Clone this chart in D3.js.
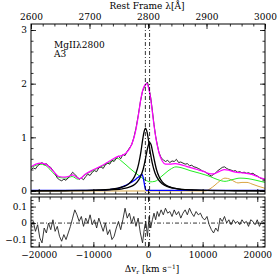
<!DOCTYPE html>
<html>
<head>
<meta charset="utf-8">
<script src="https://cdn.jsdelivr.net/npm/d3@7"></script>
<style>
  body { margin: 0; background: #fff; }
  svg text { font-family: "DejaVu Serif", serif; font-size: 9px; fill: #000; }
</style>
</head>
<body>
<div id="chart"></div>
<script>
// observed spectrum [velocity km/s, flux]
var spectrum = [
  [-21400,0.40],[-21000,0.43],[-20600,0.41],[-20200,0.47],[-19800,0.50],[-19400,0.53],[-19000,0.49],
  [-18600,0.51],[-18200,0.46],[-17800,0.44],[-17400,0.38],[-17000,0.33],[-16600,0.24],[-16200,0.21],
  [-15800,0.19],[-15400,0.22],[-15000,0.20],[-14600,0.25],[-14200,0.29],[-13800,0.35],[-13400,0.31],
  [-13000,0.27],[-12600,0.22],[-12200,0.24],[-11800,0.21],[-11400,0.27],[-11000,0.31],[-10600,0.29],
  [-10200,0.35],[-9800,0.38],[-9400,0.36],[-9000,0.43],[-8600,0.45],[-8200,0.42],[-7800,0.49],
  [-7400,0.52],[-7000,0.50],[-6600,0.57],[-6200,0.55],[-5800,0.61],[-5400,0.65],[-5000,0.60],
  [-4600,0.68],[-4200,0.66],[-3800,0.74],[-3400,0.80],[-3000,0.86],[-2600,0.99],[-2200,1.17],
  [-1800,1.40],[-1400,1.66],[-1000,1.86],[-700,1.93],[-400,1.99],[-100,2.03],[200,1.90],[500,1.74],
  [800,1.50],[1100,1.24],[1400,1.02],[1700,0.86],[2000,0.72],[2400,0.62],[2800,0.58],[3200,0.55],
  [3600,0.57],[4000,0.53],[4400,0.56],[4800,0.55],[5200,0.59],[5600,0.53],[6000,0.54],[6400,0.52],
  [6800,0.50],[7200,0.51],[7600,0.47],[8000,0.48],[8400,0.45],[8800,0.44],[9200,0.42],[9600,0.40],
  [10000,0.37],[10400,0.36],[10800,0.33],[11200,0.30],[11600,0.28],[12000,0.31],[12400,0.34],
  [12800,0.38],[13200,0.41],[13600,0.44],[14000,0.45],[14400,0.42],[14800,0.40],[15200,0.39],
  [15600,0.37],[16000,0.38],[16400,0.35],[16800,0.36],[17200,0.34],[17600,0.35],[18000,0.33],
  [18400,0.34],[18800,0.32],[19200,0.33],[19600,0.30],[20000,0.28],[20400,0.25],[20800,0.23],[21400,0.21]
];

// total fit
var totalFit = [
  [-21400,0.45],[-20500,0.50],[-19700,0.52],[-18800,0.50],[-17900,0.43],[-17000,0.33],[-16300,0.27],
  [-15200,0.26],[-14300,0.28],[-13800,0.30],[-13000,0.25],[-12500,0.23],[-11500,0.31],[-10500,0.37],
  [-9500,0.42],[-8500,0.47],[-7500,0.53],[-6500,0.59],[-5600,0.64],[-4800,0.66],[-4000,0.71],
  [-3300,0.80],[-2700,0.95],[-2200,1.15],[-1700,1.45],[-1300,1.72],[-900,1.90],[-500,1.98],
  [-200,2.00],[100,1.92],[400,1.78],[700,1.55],[1000,1.30],[1300,1.08],[1700,0.85],[2100,0.68],
  [2600,0.56],[3200,0.50],[4000,0.50],[5000,0.51],[6000,0.49],[7000,0.46],[8000,0.43],[9000,0.40],
  [10000,0.37],[11000,0.33],[12000,0.32],[13000,0.36],[14000,0.40],[15000,0.38],[16000,0.35],
  [17000,0.34],[18000,0.33],[19000,0.31],[20000,0.27],[21400,0.22]
];

// FeII template
var feTemplate = [
  [-21400,0.44],[-20700,0.47],[-19760,0.50],[-18850,0.48],[-17930,0.40],[-17020,0.30],[-16100,0.25],
  [-14820,0.24],[-13900,0.27],[-12800,0.22],[-11530,0.30],[-9700,0.40],[-7870,0.49],[-6590,0.56],
  [-5670,0.61],[-4760,0.55],[-3300,0.42],[-1830,0.30],[-550,0.21],[370,0.17],[1280,0.18],[2560,0.28],
  [4030,0.40],[5120,0.45],[6220,0.43],[7690,0.38],[9500,0.33],[11350,0.27],[12800,0.21],[14090,0.18],
  [15370,0.21],[16840,0.24],[18300,0.23],[19760,0.20],[21400,0.16]
];

// broad MgII 2796 component
var broad2796 = [
  [-21400,0.003],[-16000,0.006],[-12000,0.011],[-9000,0.019],[-7000,0.032],[-5500,0.053],[-4500,0.080],
  [-3500,0.135],[-2800,0.21],[-2200,0.33],[-1700,0.51],[-1300,0.73],[-1000,0.94],[-700,1.11],
  [-450,1.17],[-200,1.11],[100,0.94],[400,0.73],[800,0.51],[1300,0.33],[1900,0.21],[2600,0.135],
  [3600,0.080],[4600,0.053],[6100,0.032],[8100,0.019],[11100,0.011],[15100,0.006],[21400,0.003]
];

// broad MgII 2803 component
var broad2803 = [
  [-21400,0.002],[-15200,0.005],[-11200,0.008],[-8200,0.015],[-6200,0.025],[-4700,0.041],[-3700,0.062],
  [-2700,0.104],[-2000,0.165],[-1400,0.26],[-900,0.40],[-500,0.58],[-200,0.74],[100,0.865],[320,0.90],
  [550,0.865],[850,0.73],[1150,0.58],[1550,0.40],[2050,0.26],[2650,0.165],[3350,0.104],[4350,0.062],
  [5350,0.041],[6850,0.025],[8850,0.015],[11850,0.008],[15850,0.005],[21400,0.002]
];

// blueshifted component
var blueComp = [
  [-21400,0.01],[-9000,0.01],[-7500,0.02],[-6000,0.04],[-5100,0.06],[-4200,0.10],[-3300,0.15],
  [-2600,0.19],[-2000,0.24],[-1500,0.28],[-1100,0.31],[-900,0.26],[-730,0.17],[-600,0.09],
  [-450,0.03],[-300,0.01],[21400,0.01]
];

// other emission (tan)
var otherComp = [
  [-21400,0.0],[10430,0.0],[11350,0.04],[12260,0.11],[13180,0.19],[14090,0.24],[15000,0.22],
  [15920,0.17],[16470,0.15],[17200,0.16],[18120,0.16],[19030,0.13],[20130,0.09],[21400,0.05]
];

// residuals [velocity, residual]
var residuals = [
  [-21400,-0.02],[-21000,0.01],[-20600,-0.05],[-20200,-0.01],[-19800,-0.09],[-19400,-0.12],[-19000,-0.03],
  [-18600,-0.06],[-18200,0.00],[-17800,-0.04],[-17400,0.02],[-17000,-0.05],[-16600,-0.02],[-16200,-0.08],
  [-15800,-0.11],[-15400,-0.07],[-15000,-0.10],[-14600,-0.06],[-14200,-0.02],[-13800,0.03],[-13400,0.08],
  [-13000,0.05],[-12600,0.01],[-12200,0.04],[-11800,-0.02],[-11400,0.03],[-11000,0.00],[-10600,0.05],
  [-10200,-0.01],[-9800,0.02],[-9400,-0.03],[-9000,0.03],[-8600,-0.01],[-8200,-0.05],[-7800,0.00],
  [-7400,-0.07],[-7000,-0.04],[-6600,-0.10],[-6200,-0.08],[-5800,-0.03],[-5400,0.01],[-5000,-0.04],
  [-4600,0.02],[-4200,0.09],[-3800,0.03],[-3400,0.06],[-3000,0.00],[-2600,0.04],[-2200,-0.02],
  [-1800,0.03],[-1400,-0.06],[-1000,-0.12],[-700,-0.04],[-400,0.01],[-100,-0.08],[200,0.04],[500,-0.03],
  [800,0.02],[1100,0.06],[1400,0.02],[1700,0.07],[2000,0.04],[2400,0.08],[2800,0.05],[3200,0.09],
  [3600,0.06],[4000,0.07],[4400,0.04],[4800,0.08],[5200,0.05],[5600,0.07],[6000,0.03],[6400,0.06],
  [6800,0.08],[7200,0.05],[7600,0.09],[8000,0.06],[8400,0.04],[8800,0.07],[9200,0.05],[9600,0.06],
  [10000,0.03],[10400,0.02],[10800,0.04],[11200,-0.01],[11600,-0.04],[12000,-0.06],[12400,-0.03],
  [12800,-0.05],[13200,0.03],[13600,0.01],[14000,0.04],[14400,0.00],[14800,0.02],[15200,-0.01],
  [15600,0.02],[16000,0.00],[16400,0.01],[16800,-0.01],[17200,0.02],[17600,0.00],[18000,0.01],
  [18400,-0.02],[18800,0.02],[19200,0.01],[19600,-0.01],[20000,0.02],[20400,-0.02],[20800,0.01],[21400,0.00]
];

var lineWaves = [2795.5, 2802.7];   // MgII doublet, Å
var waveTicks = [2600, 2700, 2800, 2900, 3000];
var velTicks = [-20000, -10000, 0, 10000, 20000];
var fluxTicks = [0, 1, 2, 3];
var resTicks = [-0.1, 0, 0.1];

var W = 279, H = 279;
var left = 31, right = 265;
var top1 = 24, bot1 = 194, top2 = 197, bot2 = 247;

var svg = d3.select("#chart").append("svg")
  .attr("width", W).attr("height", H);

var vmax = 299792.458 * 200 / 2800;
var x = d3.scaleLinear().domain([-vmax, vmax]).range([left, right]);
var xw = d3.scaleLinear().domain([2600, 3000]).range([left, right]);
var y1 = d3.scaleLinear().domain([-0.056, 3.112]).range([bot1, top1]);
var y2 = d3.scaleLinear().domain([-0.145, 0.158]).range([bot2, top2]);

var clip1 = svg.append("clipPath").attr("id", "c1").append("rect")
  .attr("x", left).attr("y", top1).attr("width", right - left).attr("height", bot1 - top1);
var clip2 = svg.append("clipPath").attr("id", "c2").append("rect")
  .attr("x", left).attr("y", top2).attr("width", right - left).attr("height", bot2 - top2);

var line1 = d3.line().x(function(d) { return x(d[0]); }).y(function(d) { return y1(d[1]); });
var smooth1 = d3.line().curve(d3.curveMonotoneX)
  .x(function(d) { return x(d[0]); }).y(function(d) { return y1(d[1]); });
var line2 = d3.line().x(function(d) { return x(d[0]); }).y(function(d) { return y2(d[1]); });

var g1 = svg.append("g").attr("clip-path", "url(#c1)");
var g2 = svg.append("g").attr("clip-path", "url(#c2)");

function addPath(g, data, gen, color, w) {
  g.append("path").datum(data)
    .attr("d", gen)
    .attr("fill", "none")
    .attr("stroke", color)
    .attr("stroke-width", w)
    .attr("stroke-linejoin", "round");
}

// components
addPath(g1, otherComp, smooth1, "#d9a441", 1);
addPath(g1, feTemplate, smooth1, "#22ee22", 1);
addPath(g1, blueComp, smooth1, "#0000ff", 1.3);
addPath(g1, broad2796, smooth1, "#000", 1.3);
addPath(g1, broad2803, smooth1, "#000", 1.3);
addPath(g1, spectrum, line1, "#111", 0.9);
addPath(g1, totalFit, smooth1, "#ff00ff", 1.2);

// residuals
g2.append("line")
  .attr("x1", left).attr("x2", right)
  .attr("y1", y2(0)).attr("y2", y2(0))
  .attr("stroke", "#000").attr("stroke-width", 0.8)
  .attr("stroke-dasharray", "4,2,1,2");
addPath(g2, residuals, line2, "#222", 0.9);

// doublet markers
lineWaves.forEach(function(w) {
  [[top1, bot1], [top2, bot2]].forEach(function(p) {
    svg.append("line")
      .attr("x1", xw(w)).attr("x2", xw(w))
      .attr("y1", p[0]).attr("y2", p[1])
      .attr("stroke", "#000").attr("stroke-width", 0.8)
      .attr("stroke-dasharray", "4,2,1,2");
  });
});

// axes
function styleAxis(g) {
  g.select(".domain").remove();
  g.selectAll(".tick line").attr("stroke", "#000").attr("stroke-width", 0.8);
  g.selectAll("text").attr("font-family", "DejaVu Serif").attr("font-size", 9);
}
var minorW = d3.range(2600, 3001, 20);
var minorV = d3.range(-20000, 20001, 2000);

function frame(yTop, yBot, yScale, majors, minors, fmt, waveTop) {
  var ta = waveTop
    ? d3.axisTop(xw).tickValues(waveTicks).tickSize(-5).tickPadding(4).tickFormat(d3.format("d"))
    : d3.axisTop(x).tickValues(velTicks).tickSize(-5).tickFormat("");
  svg.append("g").attr("transform", "translate(0," + yTop + ")").call(ta).call(styleAxis);
  svg.append("g").attr("transform", "translate(0," + yTop + ")")
    .call(waveTop ? d3.axisTop(xw).tickValues(minorW).tickSize(-2.5).tickFormat("")
                  : d3.axisTop(x).tickValues(minorV).tickSize(-2.5).tickFormat(""))
    .call(styleAxis);

  var ba = yBot === bot2
    ? d3.axisBottom(x).tickValues(velTicks).tickSize(-5).tickPadding(5).tickFormat(d3.format("d"))
    : d3.axisBottom(x).tickValues(velTicks).tickSize(-5).tickFormat("");
  svg.append("g").attr("transform", "translate(0," + yBot + ")").call(ba).call(styleAxis);
  svg.append("g").attr("transform", "translate(0," + yBot + ")")
    .call(d3.axisBottom(x).tickValues(minorV).tickSize(-2.5).tickFormat("")).call(styleAxis);

  svg.append("g").attr("transform", "translate(" + left + ",0)")
    .call(d3.axisLeft(yScale).tickValues(majors).tickSize(-5).tickPadding(4).tickFormat(fmt)).call(styleAxis);
  svg.append("g").attr("transform", "translate(" + left + ",0)")
    .call(d3.axisLeft(yScale).tickValues(minors).tickSize(-2.5).tickFormat("")).call(styleAxis);
  svg.append("g").attr("transform", "translate(" + right + ",0)")
    .call(d3.axisRight(yScale).tickValues(majors).tickSize(-5).tickFormat("")).call(styleAxis);
  svg.append("g").attr("transform", "translate(" + right + ",0)")
    .call(d3.axisRight(yScale).tickValues(minors).tickSize(-2.5).tickFormat("")).call(styleAxis);

  svg.append("rect")
    .attr("x", left).attr("y", yTop)
    .attr("width", right - left).attr("height", yBot - yTop)
    .attr("fill", "none").attr("stroke", "#000").attr("stroke-width", 1);
}

frame(top1, bot1, y1, fluxTicks, d3.range(0, 3.05, 0.2), d3.format("d"), true);
frame(top2, bot2, y2, resTicks, d3.range(-0.14, 0.15, 0.02),
  function(d) { return d === 0 ? "0" : d3.format(".1f")(d); }, false);

// titles
svg.append("text").attr("x", 147).attr("y", 9).attr("text-anchor", "middle")
  .text("Rest Frame λ[Å]");

var xl = svg.append("text").attr("x", 152).attr("y", 272).attr("text-anchor", "middle");
xl.append("tspan").text("Δv");
xl.append("tspan").attr("font-size", 6).attr("dy", 2).text("r");
xl.append("tspan").attr("dy", -2).text(" [km s");
xl.append("tspan").attr("font-size", 6).attr("dy", -3).text("−1");
xl.append("tspan").attr("dy", 3).text("]");

svg.append("text").attr("x", 54).attr("y", 48).text("MgIIλ2800");
svg.append("text").attr("x", 54).attr("y", 57).text("A3");
</script>
</body>
</html>
